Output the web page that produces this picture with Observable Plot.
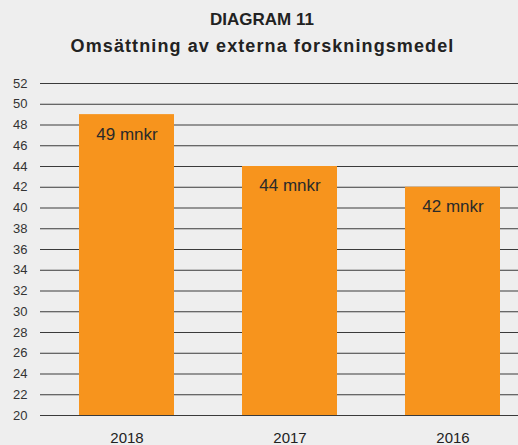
<!DOCTYPE html>
<html>
<head>
<meta charset="utf-8">
<script src="https://cdn.jsdelivr.net/npm/d3@7"></script>
<script src="https://cdn.jsdelivr.net/npm/@observablehq/plot@0.6"></script>
<style>
  html, body { margin: 0; padding: 0; background: #eeeeee; }
  #wrap { position: relative; width: 518px; height: 445px; background: #eeeeee; font-family: "Liberation Sans", Arial, sans-serif; overflow: hidden; }
  #t1 { position: absolute; left: 0; width: 518px; top: 10px; text-align: center; font-weight: bold; font-size: 17px; letter-spacing: 0px; color: #222; line-height: 20px; margin-left: 3px; }
  #t2 { position: absolute; left: 0; width: 518px; top: 35px; text-align: center; font-weight: bold; font-size: 18px; letter-spacing: 1.1px; color: #222; line-height: 22px; margin-left: 3.5px; }
  #chart { position: absolute; left: 0; top: 70px; }
</style>
</head>
<body>
<div id="wrap">
  <div id="t1">DIAGRAM 11</div>
  <div id="t2">Omsättning av externa forskningsmedel</div>
  <div id="chart"></div>
</div>
<script>
const years = ["2018", "2017", "2016"];
const values = [49, 44, 42];
const labels = ["49 mnkr", "44 mnkr", "42 mnkr"];
const yTicks = [20, 22, 24, 26, 28, 30, 32, 34, 36, 38, 40, 42, 44, 46, 48, 50, 52];
const yMin = 20;
const yMax = 52;

const data = years.map((y, i) => ({year: y, value: values[i], label: labels[i]}));

const chart = Plot.plot({
  width: 518,
  height: 375,
  marginTop: 13,
  marginBottom: 30,
  marginLeft: 40,
  marginRight: 0,
  style: {background: "transparent", fontFamily: "Liberation Sans, Arial, sans-serif"},
  x: {domain: years, range: [78, 502], paddingInner: 0.4146, paddingOuter: 0, label: null},
  y: {domain: [yMin, yMax], label: null},
  marks: [
    Plot.ruleY(yTicks, {stroke: "#3a3a3a", strokeWidth: 1}),
    Plot.barY(data, {x: "year", y1: yMin, y2: "value", fill: "#f7941d"}),
    Plot.text(data, {x: "year", y: "value", text: "label", dy: 19.5, fill: "#2a2a2a", fontSize: 17, style: "letter-spacing:0.9px"}),
    Plot.axisY(yTicks, {tickSize: 0, tickPadding: 13, fontSize: 13, fill: "#333", label: null}),
    Plot.axisX({tickSize: 0, tickPadding: 17, fontSize: 15, fill: "#222", label: null})
  ]
});
document.getElementById("chart").appendChild(chart);
</script>
</body>
</html>
